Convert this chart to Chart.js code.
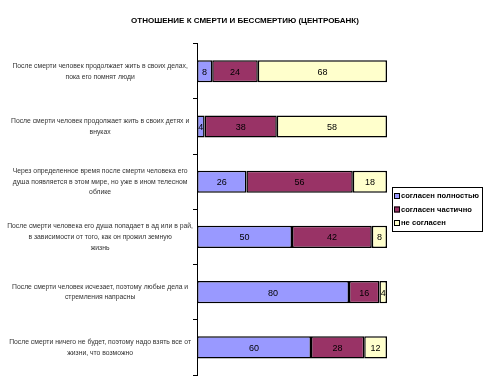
<!DOCTYPE html>
<html>
<head>
<meta charset="utf-8">
<script src="https://cdn.jsdelivr.net/npm/chart.js@4/dist/chart.umd.min.js"></script>
<style>
  html, body { margin: 0; padding: 0; background: #fff; }
  #wrap { width: 485px; height: 386px; position: relative; }
</style>
</head>
<body>
<div id="wrap"><canvas id="chart" width="485" height="386"></canvas></div>
<script>
// Categories (statements), top to bottom
const statements = [
    ["После смерти человек продолжает жить в своих делах,", "пока его помнят люди"],
    ["После смерти человек продолжает жить в своих детях и", "внуках"],
    ["Через определенное время после смерти человека его", "душа появляется в этом мире, но уже в ином телесном", "облике"],
    ["После смерти человека его душа попадает в ад или в рай,", "в зависимости от того, как он прожил земную", "жизнь"],
    ["После смерти человек исчезает, поэтому любые дела и", "стремления напрасны"],
    ["После смерти ничего не будет, поэтому надо взять все от", "жизни, что возможно"]
];

const seriesNames = ["согласен полностью", "согласен частично", "не согласен"];
const fullyAgree = [8, 4, 26, 50, 80, 60];
const partlyAgree = [24, 38, 56, 42, 16, 28];
const disagree = [68, 58, 18, 8, 4, 12];
const colors = ["#9999FF", "#993366", "#FFFFCC"];

// numbers inside the segments
const valueLabels = {
    id: "valueLabels",
    afterDatasetsDraw(chart) {
        const ctx = chart.ctx;
        ctx.save();
        ctx.font = "9px 'Liberation Sans', Arial";
        ctx.fillStyle = "#000";
        ctx.textAlign = "center";
        ctx.textBaseline = "middle";
        chart.data.datasets.forEach((ds, i) => {
            chart.getDatasetMeta(i).data.forEach((bar, j) => {
                ctx.fillText(ds.data[j], (bar.x + bar.base) / 2, bar.y + 1);
            });
        });
        ctx.restore();
    }
};

// boxed legend to the right of the plot
const boxLegend = {
    id: "boxLegend",
    afterDraw(chart) {
        const ctx = chart.ctx;
        const left = 392, top = 187, w = 90, h = 44;
        ctx.save();
        ctx.strokeStyle = "#000";
        ctx.lineWidth = 1;
        ctx.strokeRect(left + 0.5, top + 0.5, w, h);
        ctx.font = "bold 7.6px 'Liberation Sans', Arial";
        ctx.textBaseline = "middle";
        ctx.textAlign = "left";
        seriesNames.forEach((name, i) => {
            const y = top + 9 + i * 13.5;
            ctx.fillStyle = colors[i];
            ctx.fillRect(left + 2, y - 3, 6, 6);
            ctx.strokeStyle = "#000";
            ctx.strokeRect(left + 2.5, y - 2.5, 5, 5);
            ctx.fillStyle = "#000";
            ctx.fillText(name, left + 9, y);
        });
        ctx.restore();
    }
};

new Chart(document.getElementById("chart"), {
    type: "bar",
    data: {
        labels: statements,
        datasets: [
            { label: seriesNames[0], data: fullyAgree, backgroundColor: colors[0] },
            { label: seriesNames[1], data: partlyAgree, backgroundColor: colors[1] },
            { label: seriesNames[2], data: disagree, backgroundColor: colors[2] }
        ].map(ds => Object.assign(ds, {
            borderColor: "#000",
            borderWidth: 1.5,
            borderSkipped: false,
            barPercentage: 0.4,
            categoryPercentage: 1
        }))
    },
    options: {
        indexAxis: "y",
        responsive: false,
        animation: false,
        layout: { padding: { left: 5, right: 0, bottom: 11, top: 0 } },
        plugins: {
            legend: { display: false },
            tooltip: { enabled: false },
            title: {
                display: true,
                text: "ОТНОШЕНИЕ К СМЕРТИ И БЕССМЕРТИЮ (ЦЕНТРОБАНК)",
                color: "#000",
                font: { family: "'Liberation Sans', Arial", size: 8, weight: "bold" },
                padding: { top: 16, bottom: 18 }
            }
        },
        scales: {
            x: {
                stacked: true,
                display: false,
                min: 0,
                max: 100
            },
            y: {
                stacked: true,
                afterFit(scale) { scale.width = 192; },
                border: { display: true, color: "#000", width: 1 },
                grid: {
                    offset: true,
                    drawOnChartArea: false,
                    drawTicks: true,
                    tickLength: 4,
                    color: "#000"
                },
                ticks: {
                    crossAlign: "center",
                    padding: 0,
                    color: "#333",
                    autoSkip: false,
                    font: { family: "'Liberation Sans', Arial", size: 6.8, lineHeight: 1.6 }
                }
            },
            // empty space on the right where the legend box sits
            yRight: {
                type: "category",
                position: "right",
                afterFit(scale) { scale.width = 98; },
                border: { display: false },
                grid: { display: false },
                ticks: { display: false }
            }
        }
    },
    plugins: [valueLabels, boxLegend]
});
</script>
</body>
</html>
